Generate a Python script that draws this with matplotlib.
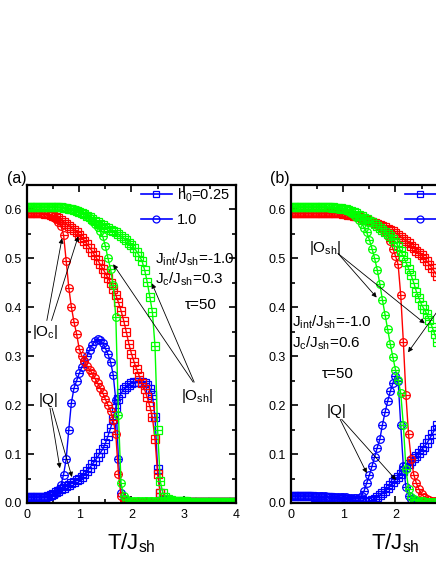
import numpy as np
import matplotlib
matplotlib.use("Agg")
import matplotlib.pyplot as plt
from matplotlib.lines import Line2D
from matplotlib.ticker import MultipleLocator

plt.rcParams["font.family"] = ["Liberation Sans", "DejaVu Sans"]
plt.rcParams["mathtext.fontset"] = "custom"
plt.rcParams["mathtext.rm"] = "Liberation Sans"
plt.rcParams["mathtext.it"] = "Liberation Sans:italic"
plt.rcParams["mathtext.default"] = "regular"

# ------------------------------------------------------------
# panel (a): J_c/J_sh = 0.3, T = 0 ... 4 in steps of 0.05
# ------------------------------------------------------------
T_a = np.arange(81) * 0.05

osh_a_h025 = [0.605, 0.605, 0.605, 0.605, 0.605, 0.605, 0.605, 0.605, 0.605, 0.605,
              0.605, 0.605, 0.604, 0.604, 0.603, 0.602, 0.601, 0.600, 0.599, 0.597,
              0.595, 0.593, 0.590, 0.587, 0.584, 0.581, 0.577, 0.574, 0.571, 0.568,
              0.565, 0.562, 0.559, 0.556, 0.553, 0.549, 0.545, 0.541, 0.537, 0.532,
              0.527, 0.521, 0.514, 0.505, 0.495, 0.477, 0.452, 0.422, 0.390, 0.320,
              0.150, 0.045, 0.020, 0.012, 0.008, 0.006, 0.005, 0.004, 0.004, 0.004,
              0.004, 0.004, 0.003, 0.003, 0.003, 0.003, 0.003, 0.003, 0.003, 0.003,
              0.003, 0.003, 0.003, 0.002, 0.002, 0.002, 0.002, 0.002, 0.002, 0.002,
              0.002]
osh_a_h10 = [0.605, 0.605, 0.605, 0.605, 0.605, 0.605, 0.605, 0.605, 0.605, 0.605,
             0.605, 0.605, 0.605, 0.604, 0.604, 0.603, 0.602, 0.601, 0.600, 0.598,
             0.596, 0.593, 0.590, 0.586, 0.582, 0.577, 0.571, 0.564, 0.555, 0.545,
             0.525, 0.500, 0.478, 0.445, 0.380, 0.180, 0.040, 0.015, 0.008, 0.005,
             0.004, 0.004, 0.004, 0.004, 0.004, 0.004, 0.004, 0.004, 0.004, 0.004,
             0.004, 0.004, 0.004, 0.004, 0.003, 0.003, 0.003, 0.003, 0.003, 0.003,
             0.003, 0.003, 0.003, 0.003, 0.003, 0.003, 0.003, 0.003, 0.003, 0.003,
             0.003, 0.002, 0.002, 0.002, 0.002, 0.002, 0.002, 0.002, 0.002, 0.002,
             0.002]
oc_a_h025 = [0.592, 0.592, 0.592, 0.592, 0.592, 0.592, 0.592, 0.591, 0.590, 0.589,
             0.587, 0.585, 0.582, 0.579, 0.575, 0.571, 0.567, 0.563, 0.558, 0.553,
             0.548, 0.542, 0.536, 0.529, 0.522, 0.514, 0.506, 0.497, 0.488, 0.479,
             0.470, 0.460, 0.450, 0.438, 0.425, 0.410, 0.393, 0.373, 0.350, 0.325,
             0.305, 0.288, 0.273, 0.259, 0.246, 0.232, 0.216, 0.198, 0.175, 0.130,
             0.060, 0.020, 0.008, 0.004, 0.003, 0.002, 0.002, 0.002, 0.002, 0.002,
             0.001, 0.001, 0.001, 0.001, 0.001, 0.001, 0.001, 0.001, 0.001, 0.001,
             0.001, 0.001, 0.001, 0.001, 0.001, 0.001, 0.001, 0.001, 0.001, 0.001,
             0.001]
oc_a_h10 = [0.592, 0.592, 0.592, 0.592, 0.592, 0.592, 0.592, 0.591, 0.590, 0.588,
            0.585, 0.580, 0.574, 0.566, 0.548, 0.495, 0.440, 0.400, 0.370, 0.345,
            0.315, 0.300, 0.290, 0.280, 0.272, 0.265, 0.255, 0.245, 0.235, 0.225,
            0.212, 0.200, 0.188, 0.170, 0.140, 0.060, 0.015, 0.005, 0.003, 0.003,
            0.002, 0.002, 0.002, 0.002, 0.002, 0.002, 0.002, 0.002, 0.002, 0.002,
            0.001, 0.001, 0.001, 0.001, 0.001, 0.001, 0.001, 0.001, 0.001, 0.001,
            0.001, 0.001, 0.001, 0.001, 0.001, 0.001, 0.001, 0.001, 0.001, 0.001,
            0.001, 0.001, 0.001, 0.001, 0.001, 0.001, 0.001, 0.001, 0.001, 0.001,
            0.001]
q_a_h025 = [0.012, 0.012, 0.012, 0.012, 0.012, 0.012, 0.012, 0.013, 0.014, 0.016,
            0.019, 0.022, 0.025, 0.028, 0.031, 0.034, 0.037, 0.040, 0.043, 0.046,
            0.049, 0.054, 0.059, 0.065, 0.072, 0.079, 0.086, 0.094, 0.102, 0.110,
            0.122, 0.137, 0.153, 0.172, 0.195, 0.212, 0.224, 0.232, 0.238, 0.242,
            0.245, 0.247, 0.248, 0.248, 0.247, 0.245, 0.241, 0.234, 0.220, 0.175,
            0.070, 0.020, 0.006, 0.003, 0.002, 0.002, 0.002, 0.002, 0.002, 0.002,
            0.001, 0.001, 0.001, 0.001, 0.001, 0.001, 0.001, 0.001, 0.001, 0.001,
            0.001, 0.001, 0.001, 0.001, 0.001, 0.001, 0.001, 0.001, 0.001, 0.001,
            0.001]
q_a_h10 = [0.012, 0.012, 0.012, 0.012, 0.012, 0.012, 0.012, 0.012, 0.013, 0.014,
           0.016, 0.020, 0.026, 0.037, 0.058, 0.090, 0.150, 0.205, 0.235, 0.250,
           0.265, 0.278, 0.290, 0.301, 0.313, 0.323, 0.331, 0.335, 0.333, 0.326,
           0.316, 0.304, 0.288, 0.262, 0.210, 0.090, 0.020, 0.006, 0.003, 0.002,
           0.002, 0.002, 0.002, 0.002, 0.002, 0.001, 0.001, 0.001, 0.001, 0.001,
           0.001, 0.001, 0.001, 0.001, 0.001, 0.001, 0.001, 0.001, 0.001, 0.001,
           0.001, 0.001, 0.001, 0.001, 0.001, 0.001, 0.001, 0.001, 0.001, 0.001,
           0.001, 0.001, 0.001, 0.001, 0.001, 0.001, 0.001, 0.001, 0.001, 0.001,
           0.001]

# ------------------------------------------------------------
# panel (b): J_c/J_sh = 0.6, T = 0 ... 2.8 in steps of 0.05
# ------------------------------------------------------------
T_b = np.arange(57) * 0.05

osh_b_h025 = [0.605, 0.605, 0.605, 0.605, 0.605, 0.605, 0.605, 0.605, 0.605, 0.605,
              0.605, 0.605, 0.605, 0.605, 0.605, 0.604, 0.604, 0.603, 0.603, 0.602,
              0.601, 0.600, 0.598, 0.596, 0.594, 0.592, 0.589, 0.586, 0.583, 0.580,
              0.577, 0.574, 0.570, 0.566, 0.562, 0.558, 0.554, 0.550, 0.545, 0.540,
              0.534, 0.525, 0.515, 0.504, 0.492, 0.479, 0.465, 0.450, 0.432, 0.418,
              0.405, 0.396, 0.386, 0.374, 0.360, 0.345, 0.330]
osh_b_h10 = [0.605, 0.605, 0.605, 0.605, 0.605, 0.605, 0.605, 0.605, 0.605, 0.605,
             0.605, 0.605, 0.605, 0.604, 0.604, 0.603, 0.603, 0.602, 0.601, 0.600,
             0.600, 0.598, 0.596, 0.593, 0.589, 0.584, 0.578, 0.571, 0.563, 0.553,
             0.538, 0.520, 0.500, 0.477, 0.448, 0.415, 0.385, 0.355, 0.325, 0.298,
             0.272, 0.252, 0.225, 0.160, 0.070, 0.028, 0.013, 0.008, 0.006, 0.005,
             0.004, 0.004, 0.003, 0.003, 0.003, 0.003, 0.003]
oc_b_h025 = [0.592, 0.592, 0.592, 0.592, 0.592, 0.592, 0.592, 0.592, 0.592, 0.592,
             0.592, 0.592, 0.592, 0.592, 0.592, 0.592, 0.592, 0.592, 0.592, 0.592,
             0.591, 0.590, 0.589, 0.588, 0.587, 0.586, 0.584, 0.582, 0.580, 0.578,
             0.577, 0.575, 0.573, 0.571, 0.569, 0.567, 0.564, 0.561, 0.558, 0.555,
             0.552, 0.548, 0.544, 0.540, 0.536, 0.531, 0.526, 0.521, 0.516, 0.511,
             0.506, 0.500, 0.494, 0.487, 0.480, 0.472, 0.464]
oc_b_h10 = [0.592, 0.592, 0.592, 0.592, 0.592, 0.592, 0.592, 0.592, 0.592, 0.592,
            0.592, 0.592, 0.592, 0.592, 0.592, 0.592, 0.592, 0.592, 0.592, 0.592,
            0.592, 0.591, 0.591, 0.590, 0.589, 0.588, 0.587, 0.585, 0.583, 0.581,
            0.579, 0.576, 0.573, 0.569, 0.565, 0.560, 0.553, 0.545, 0.535, 0.520,
            0.505, 0.488, 0.425, 0.330, 0.220, 0.140, 0.090, 0.058, 0.040, 0.028,
            0.018, 0.012, 0.008, 0.006, 0.005, 0.004, 0.004]
q_b_h025 = [0.014, 0.014, 0.014, 0.014, 0.014, 0.014, 0.014, 0.014, 0.014, 0.013,
            0.013, 0.013, 0.013, 0.012, 0.012, 0.012, 0.011, 0.011, 0.010, 0.010,
            0.009, 0.009, 0.008, 0.007, 0.006, 0.005, 0.004, 0.004, 0.003, 0.003,
            0.004, 0.006, 0.009, 0.012, 0.016, 0.020, 0.025, 0.030, 0.036, 0.042,
            0.048, 0.054, 0.060, 0.066, 0.073, 0.079, 0.085, 0.091, 0.097, 0.103,
            0.109, 0.115, 0.122, 0.131, 0.140, 0.150, 0.160]
q_b_h10 = [0.014, 0.014, 0.014, 0.014, 0.014, 0.014, 0.014, 0.014, 0.014, 0.014,
           0.014, 0.014, 0.014, 0.014, 0.013, 0.013, 0.013, 0.013, 0.013, 0.012,
           0.012, 0.012, 0.011, 0.011, 0.010, 0.010, 0.010, 0.015, 0.025, 0.041,
           0.057, 0.075, 0.094, 0.113, 0.130, 0.160, 0.185, 0.208, 0.228, 0.245,
           0.260, 0.250, 0.160, 0.075, 0.033, 0.015, 0.008, 0.005, 0.004, 0.003,
           0.003, 0.002, 0.002, 0.002, 0.002, 0.002, 0.002]

legend_labels = ["h$_0$=0.25", "1.0"]

BLUE = "#0000ff"
RED = "#ff0000"
GREEN = "#00ff00"


def draw_series(ax, t, v, color, marker):
    # line + hollow symbol, each symbol crossed by a short bar
    ax.plot(t, v, "-", color=color, lw=1.0, marker=marker, ms=5.5,
            mfc="none", mec=color, mew=0.9)
    ax.plot(t, v, ls="none", marker="_", ms=5.5, mec=color, mew=0.9)


def style_axes(ax):
    ax.set_xlim(0, 4)
    ax.set_ylim(0, 0.65)
    ax.xaxis.set_major_locator(MultipleLocator(1))
    ax.xaxis.set_minor_locator(MultipleLocator(0.5))
    ax.yaxis.set_major_locator(MultipleLocator(0.1))
    ax.yaxis.set_minor_locator(MultipleLocator(0.05))
    ax.tick_params(which="both", direction="in", top=True, right=True,
                   width=1.2, labelsize=9, pad=4)
    ax.tick_params(which="major", length=5)
    ax.tick_params(which="minor", length=3)
    for s in ax.spines.values():
        s.set_linewidth(1.6)
    ax.set_xlabel("T/J$_{sh}$", fontsize=16, labelpad=8)

    handles = [
        Line2D([], [], color=BLUE, lw=1.2, marker="s", ms=5, mfc="none", mew=0.9),
        Line2D([], [], color=BLUE, lw=1.2, marker="o", ms=5, mfc="none", mew=0.9),
    ]
    ax.legend(handles, legend_labels, loc="upper left",
              bbox_to_anchor=(0.545, 0.995), frameon=False, fontsize=10.5,
              handlelength=2.1, handletextpad=0.4, labelspacing=0.6,
              borderpad=0, borderaxespad=0)


def arrow(ax, start, end):
    ax.annotate("", xy=end, xytext=start,
                arrowprops=dict(arrowstyle="-|>", lw=0.6, color="black",
                                mutation_scale=7, shrinkA=0, shrinkB=0))


fig = plt.figure(figsize=(4.36, 5.64), dpi=100)
ax_a = fig.add_axes([0.0619, 0.1082, 0.4794, 0.5638])
ax_b = fig.add_axes([0.6674, 0.1082, 0.4794, 0.5638])

for ax, t, series in [
    (ax_a, T_a, [(q_a_h025, q_a_h10, BLUE), (oc_a_h025, oc_a_h10, RED),
                 (osh_a_h025, osh_a_h10, GREEN)]),
    (ax_b, T_b, [(q_b_h025, q_b_h10, BLUE), (oc_b_h025, oc_b_h10, RED),
                 (osh_b_h025, osh_b_h10, GREEN)]),
]:
    for v_sq, v_ci, color in series:
        draw_series(ax, t, v_sq, color, "s")
        draw_series(ax, t, v_ci, color, "o")
    style_axes(ax)

# ---- annotations, panel (a)
txt = dict(fontsize=11, va="center", ha="left")
ax_a.text(2.45, 0.498, "J$_{int}$/J$_{sh}$=-1.0", **txt)
ax_a.text(2.45, 0.457, "J$_c$/J$_{sh}$=0.3", **txt)
ax_a.text(3.02, 0.405, "τ=50", **txt)
ax_a.text(0.34, 0.350, "|O$_c$|", fontsize=11, ha="center", va="center")
ax_a.text(0.42, 0.210, "|Q|", fontsize=11, ha="center", va="center")
ax_a.text(3.25, 0.218, "|O$_{sh}$|", fontsize=11, ha="center", va="center")
arrow(ax_a, (0.38, 0.373), (0.67, 0.541))
arrow(ax_a, (0.47, 0.373), (0.98, 0.545))
arrow(ax_a, (0.44, 0.194), (0.63, 0.071))
arrow(ax_a, (0.48, 0.194), (0.86, 0.053))
arrow(ax_a, (3.18, 0.247), (1.65, 0.488))
arrow(ax_a, (3.20, 0.247), (2.39, 0.449))

# ---- annotations, panel (b)
ax_b.text(0.02, 0.369, "J$_{int}$/J$_{sh}$=-1.0", **txt)
ax_b.text(0.02, 0.327, "J$_c$/J$_{sh}$=0.6", **txt)
ax_b.text(0.59, 0.263, "τ=50", **txt)
ax_b.text(0.65, 0.522, "|O$_{sh}$|", fontsize=11, ha="center", va="center")
ax_b.text(0.88, 0.188, "|Q|", fontsize=11, ha="center", va="center")
arrow(ax_b, (0.90, 0.510), (1.64, 0.420))
arrow(ax_b, (0.90, 0.510), (2.56, 0.367))
arrow(ax_b, (2.95, 0.414), (2.24, 0.308))
arrow(ax_b, (0.94, 0.171), (1.45, 0.061))
arrow(ax_b, (0.97, 0.171), (2.01, 0.047))

fig.text(7 / 436, 1 - 179 / 564, "(a)", fontsize=11.5, va="center", ha="left")
fig.text(270 / 436, 1 - 179 / 564, "(b)", fontsize=11.5, va="center", ha="left")

fig.savefig("out.png", dpi=100)
